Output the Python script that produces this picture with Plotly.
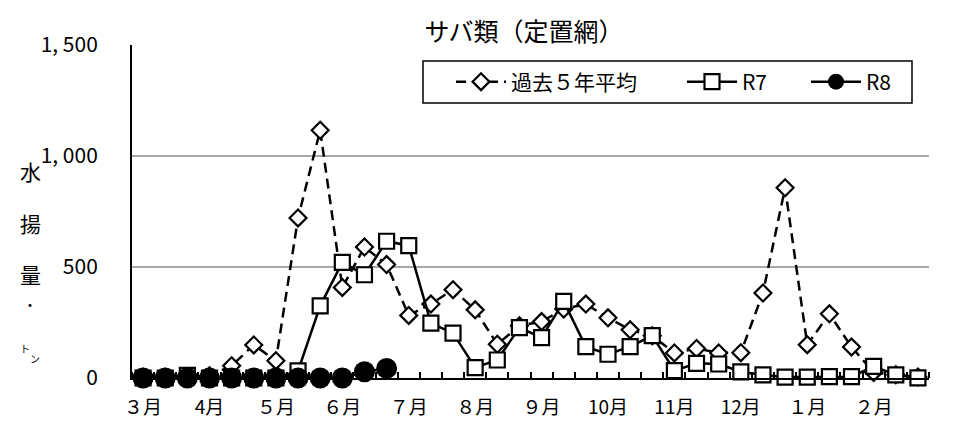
import plotly.graph_objects as go

# ---- data ----
months = ["３月", "4月", "５月", "６月", "７月", "８月", "９月", "10月", "11月", "12月", "１月", "２月"]
avg5 = [3, 3, 5, 10, 55, 149, 78, 721, 1116, 408, 590, 511, 282, 333, 398, 307, 152, 235,
        254, 311, 333, 271, 217, 190, 113, 133, 113, 114, 383, 857, 150, 289, 140, 25, 15, 5]
r7 = [0, 0, 12, 0, 0, 0, 0, 32, 325, 521, 465, 616, 596, 247, 202, 47, 81, 227,
      182, 345, 141, 107, 141, 191, 33, 66, 63, 28, 14, 4, 4, 6, 6, 52, 14, 1]
r8 = [0, 0, 0, 0, 0, 0, 0, 0, 0, 0, 28, 43]
yticks = [0, 500, 1000, 1500]
yticktext = ["0", "500", "1, 000", "1, 500"]
names = ["過去５年平均", "R7", "R8"]

n = len(avg5)
xs = list(range(n))
FONT = "Noto Sans CJK JP"

fig = go.Figure()
fig.add_trace(go.Scatter(
    x=xs, y=avg5, name=names[0], mode="lines+markers", cliponaxis=False, legendwidth=166,
    line=dict(color="black", width=2.5, dash="10px,6px"),
    marker=dict(symbol="diamond", size=13, color="white", line=dict(color="black", width=2.2)),
))
fig.add_trace(go.Scatter(
    x=xs, y=r7, name=names[1], mode="lines+markers", cliponaxis=False, legendwidth=59,
    line=dict(color="black", width=2.5),
    marker=dict(symbol="square", size=15, color="white", line=dict(color="black", width=2.2)),
))
fig.add_trace(go.Scatter(
    x=xs[:len(r8)], y=r8, name=names[2], mode="lines+markers", cliponaxis=False, legendwidth=30,
    line=dict(color="black", width=2.5),
    marker=dict(symbol="circle", size=21, color="black"),
))

L, R, T, B = 132, 31, 45, 57
W, H = 960, 435
pw, ph = W - L - R, H - T - B


def px2paper(px, py):
    return (px - L) / pw, (H - B - py) / ph


lx, ly = px2paper(451, 82)
bx0, by0 = px2paper(423, 103)
bx1, by1 = px2paper(912, 61)

fig.update_layout(
    width=W, height=H,
    margin=dict(l=L, r=R, t=T, b=B),
    paper_bgcolor="white", plot_bgcolor="white",
    font=dict(family=FONT, color="black", size=18),
    title=dict(text="サバ類（定置網）", x=524 / W, xanchor="center",
               y=1 - 32 / H, yanchor="middle", yref="container",
               font=dict(size=25, family=FONT, color="black")),
    showlegend=True,
    legend=dict(
        orientation="h", x=lx, y=ly,
        xanchor="left", yanchor="middle",
        bgcolor="rgba(0,0,0,0)", borderwidth=0,
        font=dict(size=21, family=FONT),
        itemwidth=50, traceorder="normal",
    ),
    shapes=[dict(type="rect", xref="paper", yref="paper", x0=bx0, x1=bx1, y0=by0, y1=by1,
                 fillcolor="white", line=dict(color="black", width=1.5), layer="above")],
    xaxis=dict(
        range=[-0.5, n - 0.5], tickmode="array",
        tickvals=list(range(0, n, 3)), ticktext=months,
        ticks="", showgrid=False, zeroline=False,
        showline=True, linecolor="black", linewidth=2,
        tickfont=dict(size=19, family=FONT),
        ticklabelstandoff=11,
        minor=dict(tickmode="linear", tick0=-0.5, dtick=1, ticks="inside",
                   ticklen=6, tickwidth=1.5, tickcolor="black", showgrid=False),
    ),
    yaxis=dict(
        range=[0, 1500], tickmode="array", tickvals=yticks, ticktext=yticktext,
        showgrid=True, gridcolor="#a8a8a8", gridwidth=1.5,
        zeroline=False, showline=True, linecolor="black", linewidth=2,
        ticks="", tickfont=dict(size=21, family=FONT),
        ticklabelstandoff=28,
    ),
)

# vertical y-axis title
ylab = [("水", 30, 171, 21), ("揚", 30, 223, 21), ("量", 30, 274, 21), ("・", 30, 304, 14),
        ("ト", 25, 348, 10), ("ン", 35, 358, 10)]
for ch, px, py, sz in ylab:
    xp, yp = px2paper(px, py)
    fig.add_annotation(text=ch, x=xp, y=yp, xref="paper", yref="paper",
                       showarrow=False, xanchor="center", yanchor="middle",
                       font=dict(size=sz, family=FONT, color="black"))

fig.write_html("out.html")
